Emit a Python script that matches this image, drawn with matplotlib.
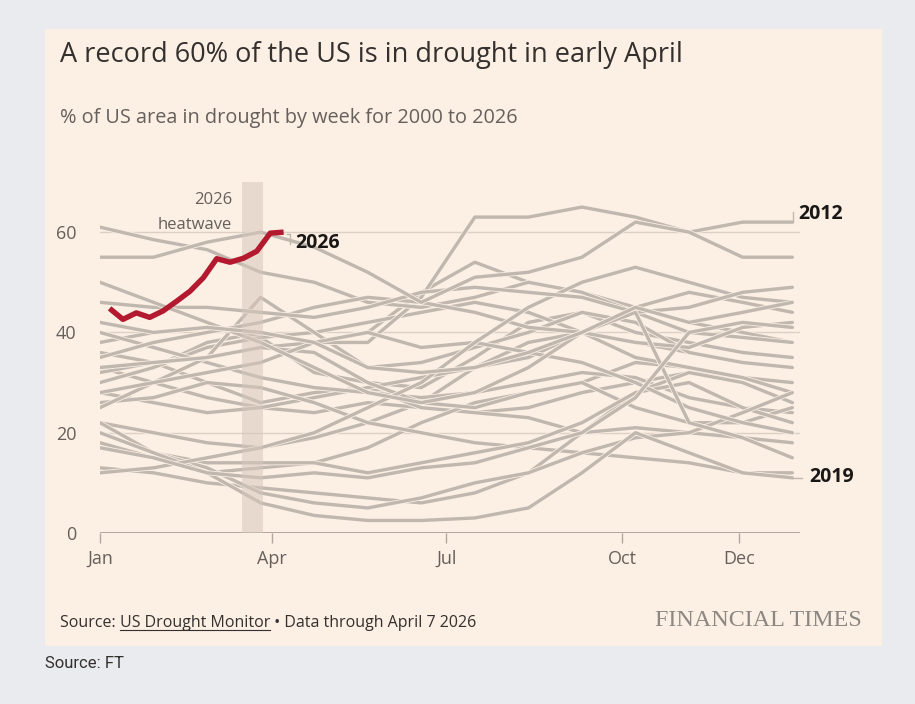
import matplotlib
matplotlib.use("Agg")
import matplotlib.pyplot as plt
import matplotlib.patheffects as pe
from matplotlib.patches import Rectangle

# ---------------- data ----------------
days = [0, 28, 56, 84, 112, 140, 168, 196, 224, 252, 280, 308, 336, 362]

y2000 = [22, 20, 18, 17, 19, 22, 26, 33, 38, 40, 38, 36, 34, 33]
y2001 = [33, 30, 27, 25, 24, 26, 25, 24, 25, 28, 30, 32, 31, 30]
y2002 = [30, 33, 38, 40, 38, 40, 48, 54, 50, 48, 45, 42, 40, 38]
y2003 = [38, 40, 41, 39, 32, 30, 29, 35, 42, 44, 40, 38, 36, 35]
y2004 = [36, 34, 30, 26, 28, 29, 25, 24, 23, 20, 21, 20, 19, 18]
y2005 = [18, 15, 12, 13, 14, 17, 22, 26, 28, 30, 34, 33, 31, 30]
y2006 = [30, 33, 37, 39, 40, 42, 44, 46, 44, 40, 35, 33, 31, 28]
y2007 = [28, 26, 24, 25, 27, 29, 31, 33, 35, 40, 45, 48, 46, 44]
y2008 = [40, 37, 34, 31, 29, 28, 27, 28, 30, 32, 31, 27, 25, 24]
y2009 = [26, 27, 30, 29, 26, 22, 20, 18, 17, 16, 15, 14, 12, 12]
y2010 = [13, 12, 10, 9, 8, 7, 6, 8, 12, 20, 28, 32, 30, 26]
y2011 = [25, 30, 35, 47, 40, 33, 34, 37, 40, 44, 42, 36, 34, 33]
y2012 = [32, 34, 35, 37, 38, 38, 47, 63, 63, 65, 63, 60, 62, 62]
y2013 = [61, 58.5, 56.5, 52, 50, 46, 45, 47, 50, 48, 44, 40, 39, 38]
y2014 = [35, 38, 40, 42, 45, 47, 46, 44, 41, 40, 38, 37, 41, 42]
y2015 = [33, 34, 35, 37, 36, 30, 26, 25, 28, 30, 25, 22, 22, 25]
y2016 = [20, 16, 14, 14, 14, 12, 14, 16, 18, 22, 28, 30, 25, 22]
y2017 = [22, 16, 13, 8, 6, 5, 7, 10, 12, 16, 19, 20, 24, 28]
y2018 = [28, 30, 32, 34, 38, 40, 37, 38, 36, 34, 30, 25, 22, 20]
y2019 = [20, 16, 12, 6, 3.5, 2.5, 2.5, 3, 5, 12, 20, 16, 12, 11]
y2020 = [12, 13, 15, 17, 20, 25, 30, 38, 45, 50, 53, 50, 47, 46]
y2021 = [46, 45, 45, 44, 43, 45, 48, 49, 48, 47, 44, 45, 48, 49]
y2022 = [55, 55, 58, 60, 57, 52, 46, 51, 52, 55, 62, 60, 55, 55]
y2023 = [50, 46, 42, 38, 33, 28, 26, 28, 33, 40, 44, 22, 19, 15]
y2024 = [17, 15, 12, 11, 12, 11, 13, 14, 17, 20, 27, 40, 42, 41]
y2025 = [42, 40, 41, 40, 38, 33, 32, 33, 36, 40, 45, 42, 44, 46]

past_years = [y2000, y2001, y2002, y2003, y2004, y2005, y2006, y2007, y2008,
              y2009, y2010, y2011, y2012, y2013, y2014, y2015, y2016, y2017,
              y2018, y2019, y2020, y2021, y2022, y2023, y2024, y2025]

days_2026 = [5, 12, 19, 26, 33, 40, 47, 54, 61, 68, 75, 82, 89, 96]
y2026 = [44.8, 42.6, 43.9, 43.0, 44.3, 46.2, 48.2, 50.9, 54.7, 54.0, 54.8,
         56.2, 59.8, 60.0]

heatwave = (74, 85)
month_ticks = [0, 90, 181, 273, 334]
month_labels = ["Jan", "Apr", "Jul", "Oct", "Dec"]
y_ticks = [0, 20, 40, 60]

# ---------------- style ----------------
W, H = 915, 704
BG_OUT = "#e9ebef"
BG_PANEL = "#fcefe4"
GRAY_LINE = "#c0b7af"
RED = "#b3192f"
TXT = "#33302e"
TXT2 = "#66605c"
FONT = ["Open Sans", "DejaVu Sans"]

fig = plt.figure(figsize=(W / 100, H / 100), dpi=100, facecolor=BG_OUT)

def fx(px):
    return px / W

def fy(py):
    return 1 - py / H

# beige panel
fig.patches.append(Rectangle((fx(45), fy(646)), fx(882) - fx(45), fy(29) - fy(646),
                             transform=fig.transFigure, facecolor=BG_PANEL,
                             edgecolor="none", zorder=-5))

# axes: day 0 at x=100px, day 366 at x=800px; 0 at y=533px, 70 at y=182px
ax = fig.add_axes([fx(100), fy(533), fx(800) - fx(100), fy(182) - fy(533)])
ax.set_zorder(2)
ax.set_facecolor("none")
ax.set_xlim(0, 366)
ax.set_ylim(0, 70)
for s in ax.spines.values():
    s.set_visible(False)

# gridlines
for v in [20, 40, 60]:
    ax.axhline(v, color="#dcd0c4", lw=1.0, zorder=1)
ax.axhline(0, color="#b0a79e", lw=1.4, zorder=1)

halo = [pe.Stroke(linewidth=3.6, foreground=BG_PANEL), pe.Normal()]
for series in past_years:
    ax.plot(days, series, color=GRAY_LINE, lw=2.4, solid_capstyle="round",
            solid_joinstyle="round", zorder=2, path_effects=halo)

ax.axvspan(heatwave[0], heatwave[1], ymin=0, ymax=1.0, color="#d6c8bb",
           alpha=0.55, lw=0, zorder=3)

ax.plot(days_2026, y2026, color=RED, lw=3.9, solid_capstyle="butt",
        solid_joinstyle="round", zorder=5)

# ticks
ax.set_xticks(month_ticks)
ax.set_xticklabels(month_labels, fontsize=13, color=TXT2, family=FONT)
ax.tick_params(axis="x", length=7, width=1.0, color="#b0a79e", pad=5)
ax.set_yticks(y_ticks)
ax.set_yticklabels([str(v) for v in y_ticks], fontsize=13, color=TXT2, family=FONT)
ax.tick_params(axis="y", length=0, pad=17)

# annotations
ax.text(69, 66.4, "2026", ha="right", va="center", fontsize=12, color=TXT2, family=FONT)
ax.text(69, 61.4, "heatwave", ha="right", va="center", fontsize=12, color=TXT2, family=FONT)

ax.plot([98, 99.5, 99.5], [59.6, 59.6, 57.6], color=GRAY_LINE, lw=1, zorder=4)
ax.text(102, 57.8, "2026", ha="left", va="center", fontsize=14, fontweight="bold",
        color="#1a1817", family=FONT)

ax.plot([362, 361, 361], [62, 62, 62] if False else [62, 62, 62], color=GRAY_LINE, lw=0)
ax.plot([362, 362.6, 362.6], [62, 62, 64], color=GRAY_LINE, lw=1, zorder=4, clip_on=False)
ax.text(365, 63.6, "2012", ha="left", va="center", fontsize=14, fontweight="bold",
        color="#1a1817", family=FONT, clip_on=False)
ax.plot([362, 367], [11, 11], color=GRAY_LINE, lw=1, zorder=4, clip_on=False)
ax.text(371, 11.2, "2019", ha="left", va="center", fontsize=14, fontweight="bold",
        color="#1a1817", family=FONT, clip_on=False)

# titles
fig.text(fx(60), fy(55), "A record 60% of the US is in drought in early April",
         ha="left", va="center", fontsize=19.5, color=TXT, family=FONT)
fig.text(fx(60), fy(118), "% of US area in drought by week for 2000 to 2026",
         ha="left", va="center", fontsize=14.3, color=TXT2, family=FONT)

# footer
FS = 11.5
src1 = fig.text(fx(60), fy(623), "Source: ", ha="left", va="center", fontsize=FS,
                color=TXT, family=FONT)
fig.canvas.draw()
r = fig.canvas.get_renderer()
bb = src1.get_window_extent(r)
x1 = bb.x1 / W
src2 = fig.text(x1, fy(623), "US Drought Monitor", ha="left", va="center", fontsize=FS,
                color=TXT, family=FONT)
bb2 = src2.get_window_extent(r)
fig.add_artist(plt.Line2D([bb2.x0 / W, bb2.x1 / W], [bb2.y0 / H + 0.001, bb2.y0 / H + 0.001],
                          transform=fig.transFigure, color=TXT, lw=0.8))
fig.text(bb2.x1 / W, fy(623), " \u2022 Data through April 7 2026", ha="left", va="center",
         fontsize=FS, color=TXT, family=FONT)

fig.text(fx(862), fy(621), "FINANCIAL TIMES", ha="right", va="center", fontsize=17.3,
         color="#8c8782", family=["Liberation Serif", "DejaVu Serif"])

fig.text(fx(45), fy(663), "Source: FT", ha="left", va="center", fontsize=12,
         color="#33302e", family=["Roboto", "DejaVu Sans"])

fig.savefig("out.png", dpi=100, facecolor=BG_OUT)
